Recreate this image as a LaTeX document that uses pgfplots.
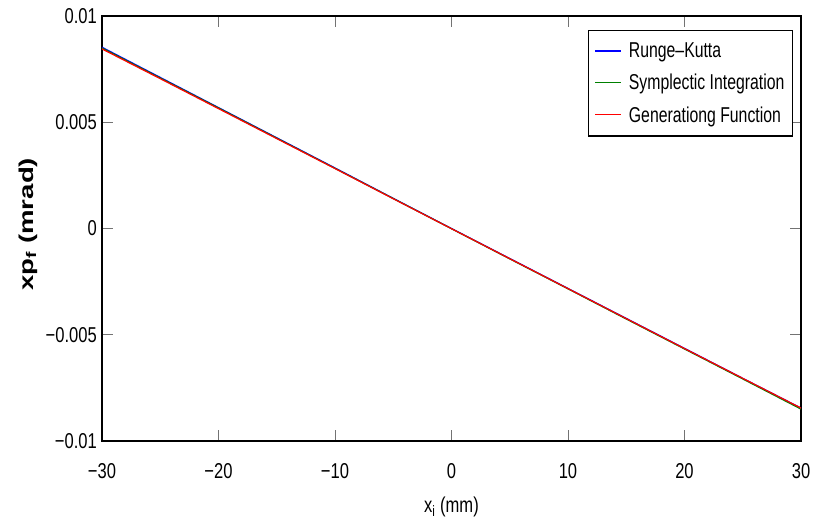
\documentclass[border=0pt]{standalone}
\usepackage{fontspec}
\setmainfont{Liberation Sans}
\newfontfamily\narrowsans{Liberation Sans}[FakeStretch=0.77]
\newfontfamily\legendsans{Liberation Sans}[FakeStretch=0.735]
\newfontfamily\tallsans{Liberation Sans}[FakeStretch=1.38]
\usepackage{pgfplots}
\pgfplotsset{compat=1.18}

\definecolor{rkblue}{rgb}{0,0,1}
\definecolor{sigreen}{rgb}{0,0.5,0}
\definecolor{gfred}{rgb}{1,0,0}

\newcommand\lblfont{\narrowsans\fontsize{21.5}{24}\selectfont}
\newcommand\legfont{\legendsans\fontsize{21.5}{24}\selectfont}

\begin{document}
\begin{tikzpicture}
\begin{axis}[
  scale only axis,
  width=699pt, height=425pt,
  xmin=-30, xmax=30, ymin=-0.01, ymax=0.01,
  xtick={-30,-20,...,30},
  xticklabels={−30,−20,−10,0,10,20,30},
  ytick={-0.01,-0.005,0,0.005,0.01},
  yticklabels={−0.01,−0.005,0,0.005,0.01},
  scaled y ticks=false,
  tick align=inside,
  major tick length=11pt,
  tick style={black!55, line width=0.8pt},
  axis line style={black, line width=1.3pt},
  ticklabel style={font=\lblfont, inner sep=0pt},
  xticklabel style={anchor=north, yshift=-22pt},
  yticklabel style={anchor=east, xshift=-5pt},
  xlabel={x\textsubscript{i} (mm)},
  xlabel style={font=\lblfont, inner sep=0pt, at={(axis description cs:0.5,0)}, anchor=north, yshift=-56pt},
  ylabel={xp\textsubscript{f} (mrad)},
  ylabel style={font=\tallsans\bfseries\fontsize{20}{24}\selectfont, inner sep=0pt,
    at={(axis description cs:-0.106,0.51)}, anchor=center},
  legend cell align=left,
  legend image code/.code={\draw[#1, line width=1.4pt] (0pt,0.3pt) -- (26pt,0.3pt);},
  legend style={at={(1,1)}, anchor=north east, xshift=-8pt, yshift=-14pt,
    draw=black, line width=1.2pt, font=\legfont, row sep=13pt, column sep=5pt,
    inner xsep=6pt, inner ysep=11.5pt,
    nodes={inner xsep=2pt, inner ysep=1pt}},
]
% Runge-Kutta tracking
\addplot[draw=rkblue, line width=1.2pt] coordinates {
  (-30,0.00853) (-25,0.00711) (-20,0.00569) (-15,0.00427) (-10,0.00285) (-5,0.00142)
  (0,0.00000) (5,-0.00141) (10,-0.00282) (15,-0.00423) (20,-0.00564) (25,-0.00705) (30,-0.00845)};
% symplectic map
\addplot[draw=sigreen, line width=1.2pt] coordinates {
  (-30,0.00849) (-25,0.00708) (-20,0.00567) (-15,0.00425) (-10,0.00283) (-5,0.00141)
  (0,-0.00001) (5,-0.00143) (10,-0.00284) (15,-0.00426) (20,-0.00567) (25,-0.00708) (30,-0.00850)};
% generating function map
\addplot[draw=gfred, line width=1.2pt] coordinates {
  (-30,0.00845) (-25,0.00705) (-20,0.00564) (-15,0.00423) (-10,0.00282) (-5,0.00140)
  (0,-0.00001) (5,-0.00142) (10,-0.00283) (15,-0.00424) (20,-0.00565) (25,-0.00705) (30,-0.00845)};
\legend{Runge–Kutta, Symplectic Integration, Generationg Function}
\end{axis}
\pgfresetboundingbox
\path ([shift={(-102pt,-84pt)}]current axis.south west) rectangle ([shift={(21pt,16pt)}]current axis.north east);
\end{tikzpicture}
\end{document}
